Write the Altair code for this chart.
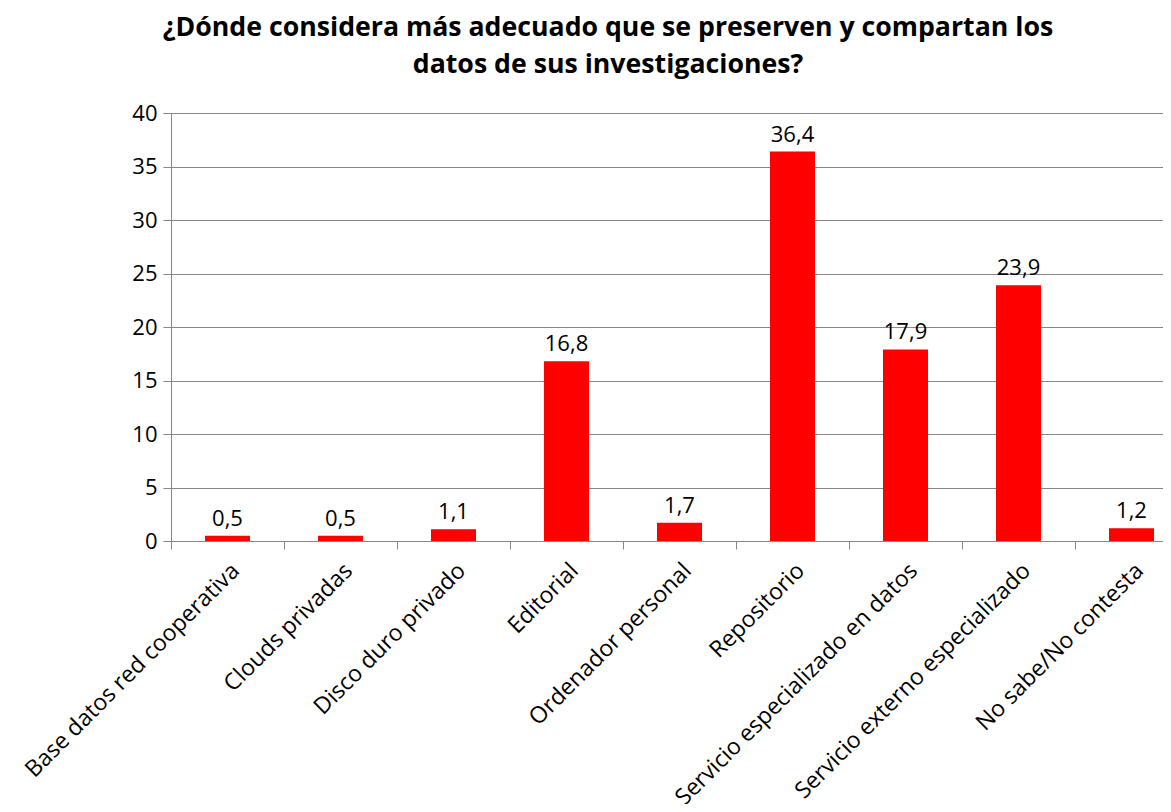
import altair as alt
import pandas as pd

categories = [
    "Base datos red cooperativa",
    "Clouds privadas",
    "Disco duro privado",
    "Editorial",
    "Ordenador personal",
    "Repositorio",
    "Servicio especializado en datos",
    "Servicio externo especializado",
    "No sabe/No contesta",
]
values = [0.5, 0.5, 1.1, 16.8, 1.7, 36.4, 17.9, 23.9, 1.2]
labels = [f"{v:.1f}".replace(".", ",") for v in values]

df = pd.DataFrame({"cat": categories, "val": values, "lab": labels})

FONT = "Open Sans"

xscale = alt.Scale(paddingInner=0, paddingOuter=0, range=[0, 1017])

x = alt.X(
    "cat:N",
    sort=categories,
    title=None,
    scale=xscale,
    axis=alt.Axis(
        labelAngle=-45,
        labelFontSize=23,
        labelFont=FONT,
        labelColor="#000000",
        labelAlign="right",
        labelBaseline="top",
        labelPadding=10,
        tickBand="extent",
        tickSize=8,
        tickColor="#868686",
        domainColor="#868686",
        labelLimit=0,
        labelOverlap=False,
    ),
)
y = alt.Y(
    "val:Q",
    title=None,
    scale=alt.Scale(domain=[0, 40]),
    axis=alt.Axis(
        values=[0, 5, 10, 15, 20, 25, 30, 35, 40],
        labelFontSize=22,
        labelFont=FONT,
        labelColor="#000000",
        labelPadding=6,
        tickSize=8,
        tickColor="#868686",
        domainColor="#868686",
        gridColor="#868686",
    ),
)

bars = alt.Chart(df).mark_bar(color="#FF0000", width=45).encode(x=x, y=y)
text = alt.Chart(df).mark_text(
    baseline="alphabetic", dy=-10, fontSize=22, font=FONT, color="#000000"
).encode(x=alt.X("cat:N", sort=categories), y="val:Q", text="lab:N")

chart = (
    (bars + text)
    .properties(
        width=992,
        height=428,
        autosize=alt.AutoSizeParams(type="none"),
        padding={"left": 163, "top": 105, "right": 0, "bottom": 263},
        title=alt.TitleParams(
            text=[
                "¿Dónde considera más adecuado que se preserven y compartan los",
                "datos de sus investigaciones?",
            ],
            fontSize=26.7,
            font=FONT,
            fontWeight="bold",
            color="#000000",
            anchor="middle",
            dx=-59,
            offset=23,
            lineHeight=37,
        ),
    )
    .configure_view(stroke=None)
)

chart.save("out.html", embed_options={"renderer": "svg", "actions": False})
